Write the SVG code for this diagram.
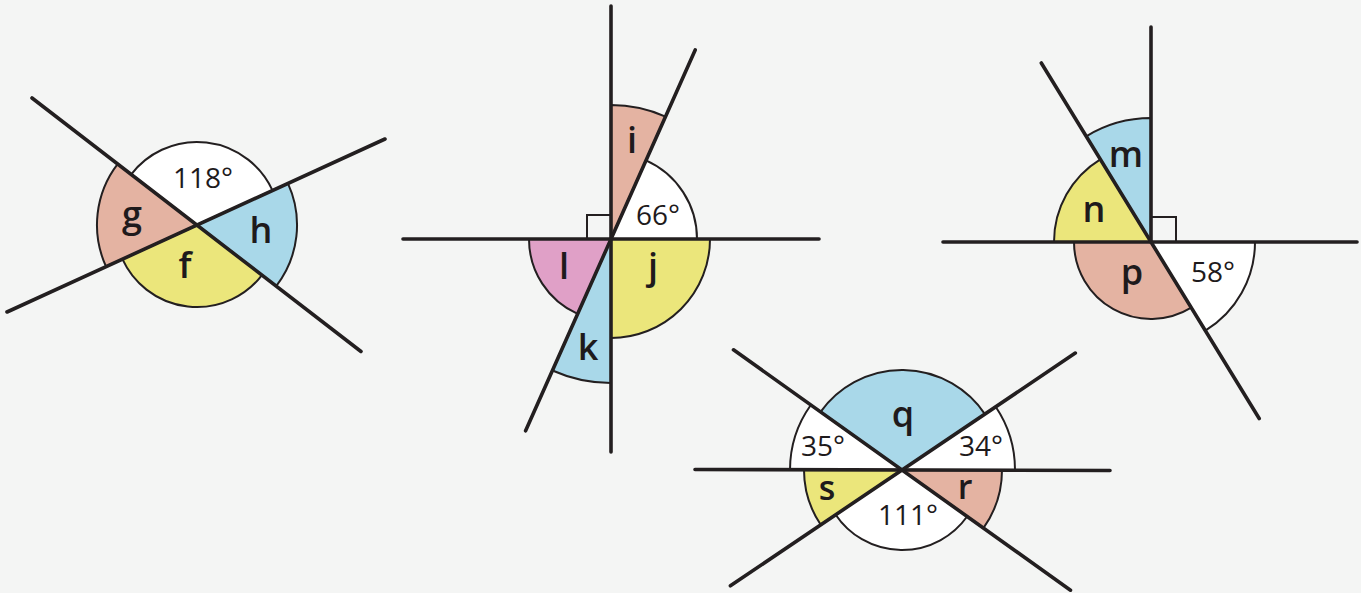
<svg xmlns="http://www.w3.org/2000/svg" width="1361" height="593" viewBox="0 0 1361 593">
<style>
.bg{fill:#f4f5f4}
.sec{stroke:#231f20;stroke-width:2;stroke-linejoin:round}
.w{fill:#ffffff}
.s{fill:#e4b3a2}
.b{fill:#a9d8e9}
.y{fill:#ebe67b}
.p{fill:#e0a0c7}
.ln{stroke:#231f20;stroke-width:3.6;stroke-linecap:round;fill:none}
.ra{fill:none;stroke:#231f20;stroke-width:2}
.let{font-family:"Open Sans","Liberation Sans",sans-serif;font-weight:600;font-size:36px;fill:#1e1a1c;text-anchor:middle}
.sm{font-size:34px}
.num{font-family:"Open Sans","Liberation Sans",sans-serif;font-weight:400;font-size:28px;fill:#1e1a1c;text-anchor:middle}
</style>
<rect class="bg" x="0" y="0" width="1361" height="593"/>

<g id="figure-fgh">
  <path class="sec w" d="M197,225 L131.24,174.30 A83,83 0 0 1 272.47,190.45 Z"/>
  <path class="sec b" d="M197,225 L287.93,183.37 A100,100 0 0 1 276.23,286.08 Z"/>
  <path class="sec y" d="M197,225 L261.97,275.09 A82,82 0 0 1 122.44,259.14 Z"/>
  <path class="sec s" d="M197,225 L106.07,266.63 A100,100 0 0 1 117.77,163.92 Z"/>
  <g class="lines">
    <line class="ln" x1="32" y1="98" x2="361" y2="351.5"/>
    <line class="ln" x1="7" y1="312" x2="385" y2="139"/>
  </g>
  <text class="num" x="203" y="188">118°</text>
  <text class="let" x="132" y="227">g</text>
  <text class="let" x="261" y="243">h</text>
  <text class="let" x="185" y="278">f</text>
</g>

<g id="figure-ijkl">
  <path class="sec s" d="M611,239 L611,105 A134,134 0 0 1 665.5,116.6 Z"/>
  <path class="sec w" d="M611,239 L645.98,160.44 A86,86 0 0 1 697,239 Z"/>
  <path class="sec y" d="M611,239 L710,239 A99,99 0 0 1 611,338 Z"/>
  <path class="sec b" d="M611,239 L611,383 A144,144 0 0 1 552.43,370.5 Z"/>
  <path class="sec p" d="M611,239 L577.65,313.9 A82,82 0 0 1 529,239 Z"/>
  <rect class="ra" x="587" y="215" width="24" height="24"/>
  <g class="lines">
    <line class="ln" x1="611" y1="6" x2="611" y2="452"/>
    <line class="ln" x1="403" y1="239" x2="819" y2="239"/>
    <line class="ln" x1="695.2" y1="49.9" x2="525.6" y2="430.8"/>
  </g>
  <text class="let" x="632" y="153">i</text>
  <text class="num" x="658" y="225">66°</text>
  <text class="let" x="653" y="279">j</text>
  <text class="let" x="564" y="279">l</text>
  <text class="let" x="588" y="360">k</text>
</g>

<g id="figure-mnp">
  <path class="sec b" d="M1151,242 L1086.21,136.28 A124,124 0 0 1 1151,118 Z"/>
  <path class="sec y" d="M1151,242 L1054,242 A97,97 0 0 1 1100.32,159.30 Z"/>
  <path class="sec s" d="M1151,242 L1191.23,307.65 A77,77 0 0 1 1074,242 Z"/>
  <path class="sec w" d="M1151,242 L1255,242 A104,104 0 0 1 1205.34,330.67 Z"/>
  <rect class="ra" x="1151" y="217" width="25" height="25"/>
  <g class="lines">
    <line class="ln" x1="1151" y1="27" x2="1151" y2="242"/>
    <line class="ln" x1="943" y1="242" x2="1357" y2="242"/>
    <line class="ln" x1="1041.3" y1="63" x2="1259.2" y2="418.5"/>
  </g>
  <text class="let" x="1126" y="167">m</text>
  <text class="let" x="1094" y="222">n</text>
  <text class="let" x="1132" y="285">p</text>
  <text class="num" x="1213" y="282">58°</text>
</g>

<g id="figure-qrs">
  <path class="sec w" d="M902,470 L790,470 A112,112 0 0 1 810.82,404.96 Z"/>
  <path class="sec b" d="M902,470 L820.59,411.93 A100,100 0 0 1 984.90,414.08 Z"/>
  <path class="sec w" d="M902,470 L995.68,406.81 A113,113 0 0 1 1015,470 Z"/>
  <path class="sec s" d="M902,470 L1002,470 A100,100 0 0 1 983.41,528.07 Z"/>
  <path class="sec w" d="M902,470 L967.13,516.46 A80,80 0 0 1 835.68,514.74 Z"/>
  <path class="sec y" d="M902,470 L820.76,524.80 A98,98 0 0 1 804,470 Z"/>
  <g class="lines">
    <line class="ln" x1="695" y1="469.5" x2="1110" y2="470.5"/>
    <line class="ln" x1="733.5" y1="349.8" x2="1070.5" y2="590.2"/>
    <line class="ln" x1="1075.3" y1="353.1" x2="730.4" y2="585.8"/>
  </g>
  <text class="let" x="903" y="427">q</text>
  <text class="num" x="823" y="455.5">35°</text>
  <text class="num" x="981" y="455.5">34°</text>
  <text class="let sm" x="827" y="500">s</text>
  <text class="let sm" x="965" y="499">r</text>
  <text class="num" x="908" y="525">111°</text>
</g>
</svg>
